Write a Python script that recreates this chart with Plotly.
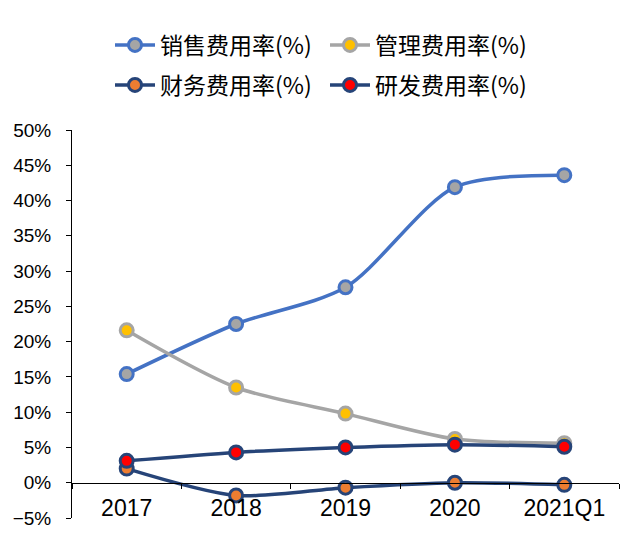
import plotly.graph_objects as go

categories = ["2017", "2018", "2019", "2020", "2021Q1"]
sales = [15.4, 22.5, 27.7, 41.9, 43.6]
admin = [21.6, 13.5, 9.8, 6.2, 5.6]
finance = [2.0, -1.8, -0.7, 0.0, -0.3]
rnd = [3.1, 4.3, 5.0, 5.4, 5.1]
names = ["销售费用率(%)", "管理费用率(%)", "财务费用率(%)", "研发费用率(%)"]

series = [
    (names[0], sales, "#4472C4", "#A5A5A5", "legend"),
    (names[1], admin, "#A5A5A5", "#FFC000", "legend"),
    (names[2], finance, "#264478", "#ED7D31", "legend2"),
    (names[3], rnd, "#264478", "#FF0000", "legend2"),
]

fig = go.Figure()
for name, vals, lc, mc, lg in series:
    fig.add_trace(go.Scatter(
        x=categories, y=[v / 100 for v in vals], name=name,
        mode="lines+markers", legend=lg,
        line=dict(color=lc, width=3.5, shape="spline", smoothing=0.8),
        marker=dict(size=13, color=mc, line=dict(color=lc, width=3)),
    ))

W, H = 640, 544
OFF = 8  # page body margin
legfont = dict(family="Noto Sans CJK SC", size=23, color="#000000")
common_leg = dict(
    orientation="h", x=(114 - OFF - 4) / W, xanchor="left", yanchor="middle",
    xref="container", yref="container",
    entrywidth=160, entrywidthmode="pixels",
    font=legfont, itemwidth=40, bgcolor="rgba(0,0,0,0)",
)

ymin, ymax = -0.05, 0.50
fig.update_layout(
    width=W, height=H,
    margin=dict(l=72 - OFF, r=W - 619 + OFF, t=130 - OFF, b=H - 518 + OFF, autoexpand=False),
    plot_bgcolor="white", paper_bgcolor="white",
    font=dict(family="Liberation Sans, Arial, sans-serif", size=19, color="#000000"),
    legend=dict(common_leg, y=1 - (45 - OFF) / H),
    legend2=dict(common_leg, y=1 - (85 - OFF) / H),
    showlegend=True,
)
fig.update_xaxes(
    type="category", range=[-0.5, 4.5],
    anchor="free", position=(0 - ymin) / (ymax - ymin),
    showline=True, linecolor="#000000", linewidth=1,
    ticks="outside", ticklen=5, tickcolor="#000000", tickson="boundaries",
    showgrid=False, zeroline=False, automargin=False,
    ticklabelstandoff=5,
    tickfont=dict(family="Liberation Sans, Arial, sans-serif", size=23),
)
fig.update_yaxes(
    range=[ymin, ymax], dtick=0.05, tickformat=".0%",
    showline=True, linecolor="#000000", linewidth=1,
    ticks="outside", ticklen=5, tickcolor="#000000",
    showgrid=False, zeroline=False, automargin=False,
    ticklabelstandoff=11,
    tickfont=dict(size=19),
)
fig.write_html("out.html")
